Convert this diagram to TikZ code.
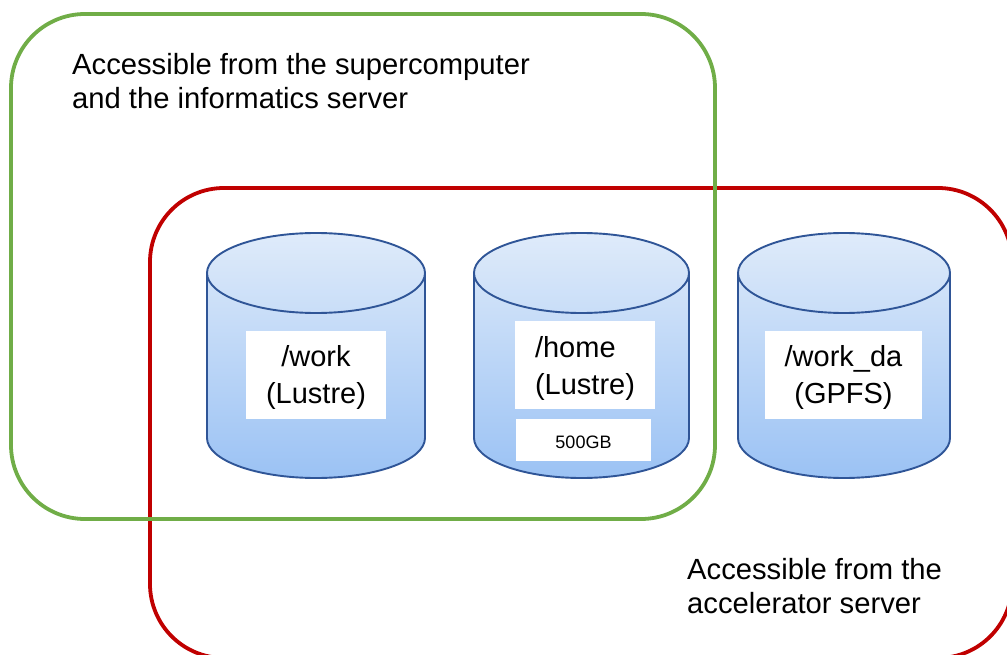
\documentclass[tikz,border=0pt]{standalone}
\usepackage{fontspec}
\setmainfont{Liberation Sans}
\definecolor{zonegreen}{HTML}{70AD47}
\definecolor{zonered}{HTML}{C00000}
\definecolor{drumline}{HTML}{2F5597}
\definecolor{drumtop}{HTML}{DFEBFA}
\definecolor{drumbottom}{HTML}{9BC2F4}
\newcommand{\toppad}[1]{\rule{0pt}{#1pt}}
\tikzset{
  zonebox/.style={line width=3.8pt, rounded corners=74pt},
  caption/.style={anchor=west, align=left, inner sep=0pt, font=\fontsize{29.2}{34.5}\selectfont},
  labelbox/.style={fill=white, inner sep=0pt, align=center, font=\fontsize{29}{37}\selectfont},
  sizebox/.style={fill=white, inner sep=0pt, font=\fontsize{18}{20}\selectfont},
  drum/.style={draw=drumline, line width=1.9pt, top color=drumtop, bottom color=drumbottom},
  drumrim/.style={draw=drumline, line width=1.9pt}
}
\begin{document}
\begin{tikzpicture}[x=1pt, y=-1pt]
          \useasboundingbox (0,0) rectangle (1007,655);
          \clip (0,0) rectangle (1007,655);

          % Zones
          \draw[zonebox, zonered] (150,188) rectangle (1012,658);
          \draw[zonebox, zonegreen] (11,14) rectangle (715,519);

          % Drums
          \foreach \xl/\xr in {207/425, 474/689, 738/950} {
            \draw[drum] (\xl,273) arc[start angle=180, end angle=360, x radius={(\xr-\xl)/2}, y radius=40]
              -- (\xr,438) arc[start angle=0, end angle=180, x radius={(\xr-\xl)/2}, y radius=40] -- cycle;
            \draw[drumrim] (\xl,273) arc[start angle=180, end angle=0, x radius={(\xr-\xl)/2}, y radius=40];
          }

          % Labels
          \node[labelbox, minimum width=140pt, minimum height=88pt] (work) at (316,375) {\toppad{27}/work\\(Lustre)};
          \node[labelbox, minimum width=140pt, minimum height=88pt, align=left] (home) at (585,365) {\toppad{29}/home\\(Lustre)};
          \node[sizebox, minimum width=135pt, minimum height=42pt] (quota) at (583.5,440) {\toppad{18}500GB};
          \node[labelbox, minimum width=157pt, minimum height=88pt] (workda) at (843.5,375) {\toppad{27}/work\_da\\(GPFS)};

          % Captions
          \node[caption] (supercap) at (72,81) {Accessible from the supercomputer\\and the informatics server};
          \node[caption] (accelcap) at (687,586) {Accessible from the\\accelerator server};
\end{tikzpicture}
\end{document}
